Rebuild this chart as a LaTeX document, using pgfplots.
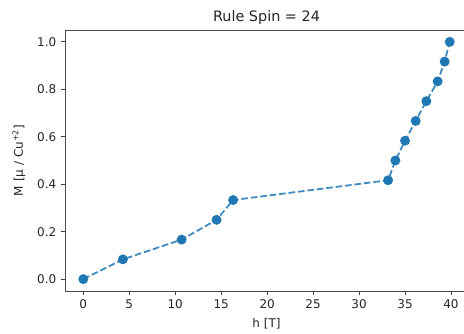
\documentclass[border=0pt]{standalone}
\usepackage{pgfplots}
\pgfplotsset{compat=1.18}
\usepackage{fontspec}
\setmainfont{DejaVu Sans}
\definecolor{mplblue}{HTML}{1F77B4}
\definecolor{txt}{HTML}{262626}
\begin{document}
\begin{tikzpicture}
\begin{axis}[
  name=ax,
  scale only axis,
  width=403pt, height=261pt,
  xmin=-1.99, xmax=41.85,
  ymin=-0.05, ymax=1.05,
  xtick={0,5,...,40},
  ytick={0,0.2,...,1.0},
  yticklabel style={xshift=-1pt, /pgf/number format/.cd,fixed,fixed zerofill,precision=1},
  /pgf/number format/assume math mode=true,
  tick align=outside,
  major tick length=4.2pt,
  tick style={black!75, line width=0.9pt},
  xtick pos=bottom, ytick pos=left,
  axis line style={black!70, line width=0.9pt},
  ticklabel style={font=\fontsize{12}{14}\selectfont, text=txt},
  xticklabel style={yshift=-1pt},
  xlabel={h [T]},
  ylabel={M [µ / Cu\textsuperscript{+2}]},
  label style={font=\fontsize{12}{14}\selectfont, text=txt},
  xlabel style={yshift=-3pt},
  ylabel style={yshift=5pt},
  title={Rule Spin = 24},
  title style={font=\fontsize{14.4}{16}\selectfont, text=txt, yshift=-4pt},
  clip=false,
]
\addplot[mplblue, opacity=0.85, line width=1.8pt, dash pattern=on 6.6pt off 2.9pt,
  mark=*, mark size=4pt, mark options={solid, fill=mplblue, draw=mplblue, opacity=1}]
  coordinates {
  (0,0) (4.31,0.0833) (10.7,0.1667) (14.5,0.25) (16.3,0.3333)
  (33.16,0.4167) (33.95,0.5) (35.0,0.5833) (36.16,0.6667)
  (37.32,0.75) (38.55,0.8333) (39.31,0.9167) (39.86,1.0)
  };
\end{axis}
\pgfresetboundingbox
\path[use as bounding box] ([xshift=-65pt,yshift=-43pt]ax.south west) rectangle ([xshift=-4pt,yshift=30pt]ax.north east);
\end{tikzpicture}
\end{document}
